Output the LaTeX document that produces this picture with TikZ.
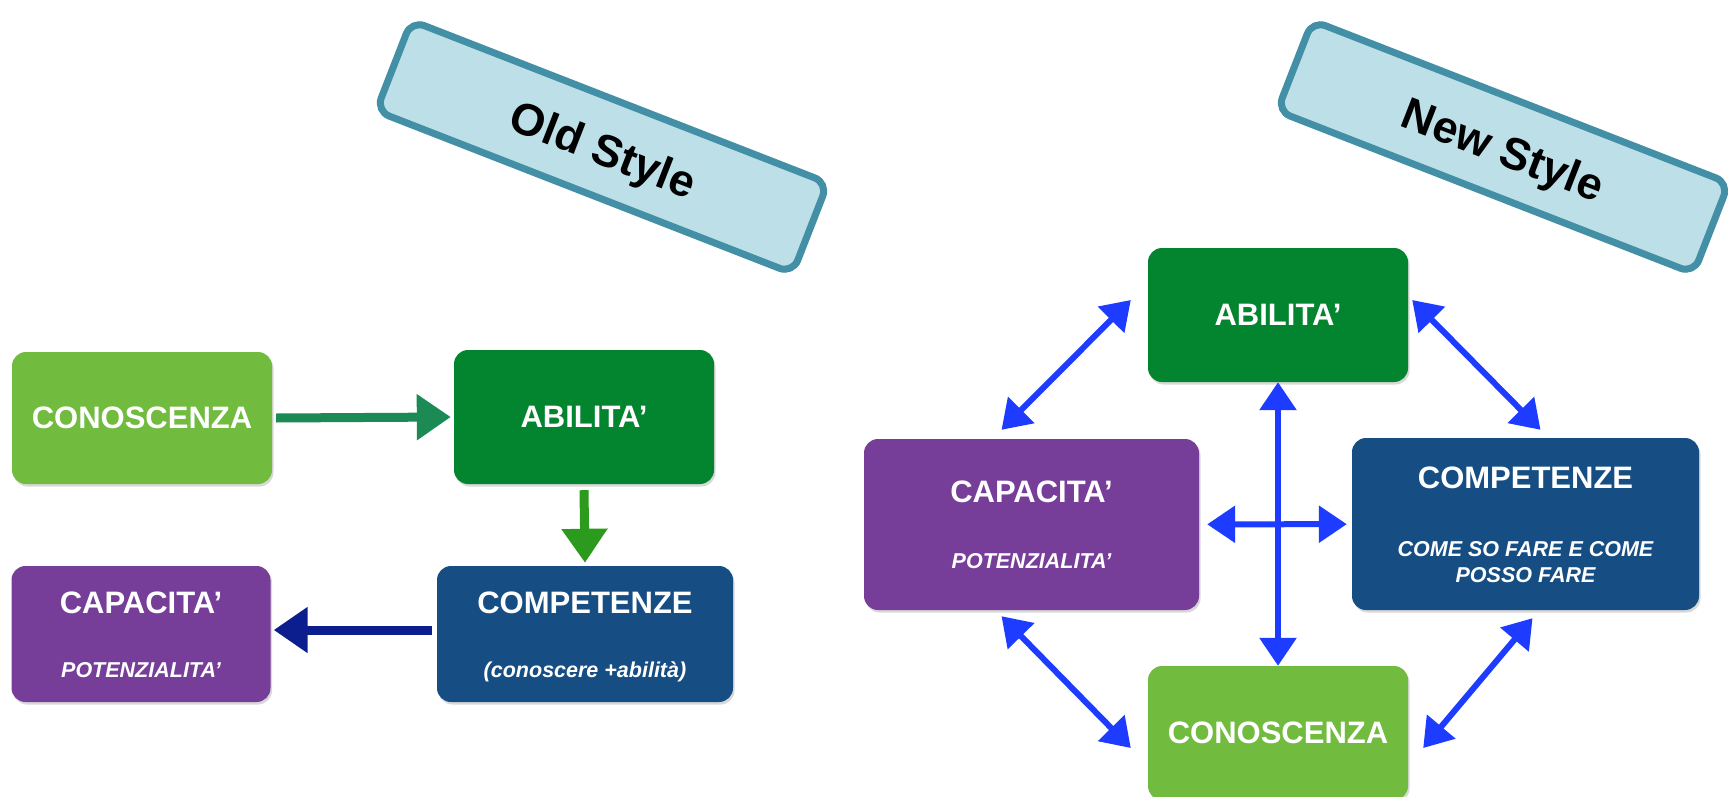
\documentclass[tikz,border=0pt]{standalone}
\usepackage{fontspec}
\setmainfont{Liberation Sans}
\usepackage{tikz}
\usetikzlibrary{arrows.meta,shadows}

\definecolor{lightgreen}{HTML}{71BB3F}
\definecolor{darkgreen}{HTML}{03842E}
\definecolor{navyblue}{HTML}{164E84}
\definecolor{capviolet}{HTML}{763E98}
\definecolor{bannerfill}{HTML}{BDDFE8}
\definecolor{bannerline}{HTML}{428FA6}
\definecolor{arrowteal}{HTML}{1B8A55}
\definecolor{arrowgreen}{HTML}{2C9A1C}
\definecolor{arrownavy}{HTML}{0C1E8E}
\definecolor{arrowblue}{HTML}{1E3CFF}

\begin{document}
\begin{tikzpicture}[x=1pt,y=-1pt,
  box/.style={rounded corners=14pt, inner sep=0pt, text=white,
    font=\bfseries\fontsize{31}{36}\selectfont,
    drop shadow={shadow xshift=1.5pt,shadow yshift=-2.5pt,opacity=.3}},
  title/.style={text=white, font=\bfseries\fontsize{31}{36}\selectfont},
  sub/.style={text=white, align=center, font=\bfseries\itshape\fontsize{21.5}{26}\selectfont},
  banner/.style={draw=bannerline, fill=bannerfill, line width=7pt, rounded corners=14pt,
    minimum width=447pt, minimum height=97pt, rotate=-21.3},
  bannertext/.style={rotate=-21.3, font=\bfseries\fontsize{45}{50}\selectfont},
  oldarrow/.style={line width=9pt, -{Triangle[length=34pt,width=44pt]}},
  newarrow/.style={arrowblue, line width=6pt,
    {Triangle[length=28pt,width=36pt]}-{Triangle[length=28pt,width=36pt]}}
]
\fill[white] (0,0) rectangle (1728,797);
\useasboundingbox (0,0) rectangle (1728,797);

%draw banners
\node[banner] (oldst) at (602,147) {};
\node[bannertext] (oldtx) at (602,153) {Old Style};
\node[banner] (newst) at (1503,147) {};
\node[bannertext] (newtx) at (1502,153) {New Style};

%draw old style boxes
\node[box, fill=lightgreen, minimum width=260pt, minimum height=132pt] (con1) at (142,418) {CONOSCENZA};
\node[box, fill=darkgreen, minimum width=260pt, minimum height=134pt] (abi1) at (584,417) {ABILITA'};
\node[box, fill=navyblue, minimum width=296pt, minimum height=136pt] (com1) at (585,634) {};
\node[box, fill=capviolet, minimum width=259pt, minimum height=136pt] (cap1) at (141,634) {};
\node[title] (com1t) at (585,603) {COMPETENZE};
\node[sub] (com1s) at (585,672) {(conoscere +abilità)};
\node[title] (cap1t) at (141,603) {CAPACITA'};
\node[sub] (cap1s) at (141,670) {POTENZIALITA'};

%draw old style arrows
\draw[oldarrow, arrowteal] ([xshift=4pt]con1.east) -- ([xshift=-3pt]abi1.west);
\draw[oldarrow, arrowgreen] ([yshift=-6pt]abi1.south) -- ([yshift=3pt]com1.north);
\draw[oldarrow, arrownavy] ([shift={(-5,-4)}]com1.west) -- ([shift={(3,-4)}]cap1.east);

%draw new style boxes
\node[box, fill=darkgreen, minimum width=260pt, minimum height=134pt] (abi2) at (1278,315) {ABILITA'};
\node[box, fill=capviolet, minimum width=335pt, minimum height=171pt] (cap2) at (1031.5,524.5) {};
\node[box, fill=navyblue, minimum width=347pt, minimum height=172pt] (com2) at (1525.5,524) {};
\node[box, fill=lightgreen, minimum width=260pt, minimum height=134pt] (con2) at (1278,733) {CONOSCENZA};
\node[title] (cap2t) at (1031.5,492) {CAPACITA'};
\node[sub] (cap2s) at (1031.5,561) {POTENZIALITA'};
\node[title] (com2t) at (1525.5,478) {COMPETENZE};
\node[sub] (com2s) at (1525.5,562) {COME SO FARE E COME\\POSSO FARE};

%draw new style arrows
\draw[newarrow] ([shift={(-17,-15)}]abi2.west) -- ([shift={(-30,-9)}]cap2.north);
\draw[newarrow] ([shift={(4,-15)}]abi2.east) -- ([shift={(15,-8)}]com2.north);
\draw[newarrow] ([shift={(-30,6)}]cap2.south) -- ([shift={(-17,15)}]con2.west);
\draw[newarrow] ([shift={(7,8)}]com2.south) -- ([shift={(15,15)}]con2.east);
\draw[newarrow] (abi2) -- (con2);
\draw[newarrow, shorten <=8pt, shorten >=5pt] (cap2) -- (com2);
\end{tikzpicture}
\end{document}
